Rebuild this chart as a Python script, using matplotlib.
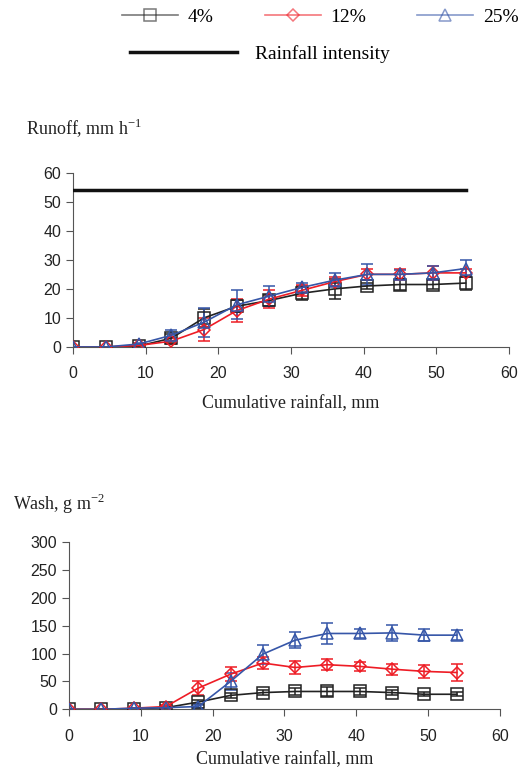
import matplotlib.pyplot as plt
from matplotlib.lines import Line2D

# Cumulative rainfall (mm)
rain = [0, 4.5, 9, 13.5, 18, 22.5, 27, 31.5, 36, 40.5, 45, 49.5, 54]
intensity = 54  # mm h-1

# Runoff (mm h-1) and error bars
run_4 = [0, 0, 0.3, 3, 10, 14, 16, 18.5, 20, 21, 21.5, 21.5, 22]
run_4_err = [0, 0, 0.5, 1.5, 3, 2, 2, 2.5, 3.5, 1, 2, 1.5, 2.5]
run_12 = [0, 0, 0.5, 2, 6, 12.5, 16.5, 19.5, 22.5, 25, 25, 25.5, 25.5]
run_12_err = [0, 0, 0.5, 1, 4, 4, 3, 2, 1.5, 2, 2, 2.5, 1.5]
run_25 = [0, 0, 1, 4, 8.5, 14.5, 17.5, 20.5, 23, 25, 25, 25.5, 27]
run_25_err = [0, 0, 0.5, 2, 5, 5, 3.5, 1.5, 2.5, 3.5, 1.5, 2.5, 3]

# Wash (g m-2) and error bars
wash_4 = [0, 0, 1, 3, 13, 25, 30, 32, 32, 32, 30, 27, 27]
wash_4_err = [0, 0, 0.5, 1, 3, 5, 5, 7, 8, 7, 4, 4, 4]
wash_12 = [0, 0, 2, 5, 38, 63, 83, 75, 80, 77, 72, 68, 66]
wash_12_err = [0, 0, 1, 2, 12, 12, 10, 11, 10, 8, 10, 11, 16]
wash_25 = [0, 0, 2, 3, 5, 50, 99, 124, 136, 136, 137, 133, 133]
wash_25_err = [0, 0, 1, 1, 3, 15, 17, 14, 18, 8, 15, 11, 9]

labels = ['4%', '12%', '25%']
colors = ['#222222', '#ee1c25', '#3656a8']
markers = ['s', 'D', '^']
msizes = [8, 6, 8]

plt.rcParams['font.family'] = 'Liberation Sans'
serif = 'Liberation Serif'

fig = plt.figure(figsize=(5.19, 7.71), dpi=100)
ax1 = fig.add_axes([0.141, 0.550, 0.840, 0.226])
ax2 = fig.add_axes([0.133, 0.080, 0.830, 0.217])


def draw(ax, series, errs, lpad):
    handles = []
    for y, e, c, m, ms, lab in zip(series, errs, colors, markers, msizes, labels):
        ax.errorbar(rain, y, yerr=e, fmt='none', ecolor=c, elinewidth=1.1,
                    capsize=4, capthick=1.1, zorder=2)
        h, = ax.plot(rain, y, color=c, lw=1.2, marker=m, ms=ms, mfc='none',
                     mec=c, mew=1.1, label=lab, zorder=3)
        handles.append(h)
    ax.set_xlim(0, 60)
    ax.set_xticks(range(0, 61, 10))
    for s in ['top', 'right']:
        ax.spines[s].set_visible(False)
    for s in ['left', 'bottom']:
        ax.spines[s].set_color('#555555')
    ax.tick_params(axis='both', direction='out', length=5, color='#555555',
                   labelsize=11.5, labelcolor='#222222')
    ax.tick_params(axis='x', pad=9)
    ax.set_xlabel('Cumulative rainfall, mm', family=serif, fontsize=13,
                  color='#222222', labelpad=lpad)
    return handles


handles = draw(ax1, [run_4, run_12, run_25], [run_4_err, run_12_err, run_25_err], 10)
ri, = ax1.plot([0, 54], [intensity, intensity], color='#111111', lw=2.5,
               label='Rainfall intensity', zorder=4)
ax1.set_ylim(0, 60)
ax1.set_yticks(range(0, 61, 10))

draw(ax2, [wash_4, wash_12, wash_25], [wash_4_err, wash_12_err, wash_25_err], 5)
ax2.set_ylim(0, 300)
ax2.set_yticks(range(0, 301, 50))

fig.text(0.050, 0.834, r'Runoff, mm h$^{\mathregular{-1}}$', family=serif,
         fontsize=13, color='#222222', va='center')
fig.text(0.025, 0.346, r'Wash, g m$^{\mathregular{-2}}$', family=serif,
         fontsize=13, color='#222222', va='center')

# legend handles with lighter lines like the original
leg_handles = [Line2D([], [], color=c, lw=1.2, alpha=0.6, marker=m, ms=ms,
                      mfc='none', mec=c, mew=1.1)
               for c, m, ms in zip(colors, markers, msizes)]
fig.legend(leg_handles, labels, loc='center left', bbox_to_anchor=(0.235, 0.978),
           ncol=3, frameon=False, handlelength=2.9, handletextpad=0.5,
           columnspacing=2.6, borderpad=0, borderaxespad=0,
           prop={'family': serif, 'size': 14})
fig.legend([ri], ['Rainfall intensity'], loc='center left',
           bbox_to_anchor=(0.250, 0.930), frameon=False, handlelength=5.5,
           handletextpad=0.93, borderpad=0, borderaxespad=0,
           prop={'family': serif, 'size': 14})

fig.savefig('out.png', dpi=100)
